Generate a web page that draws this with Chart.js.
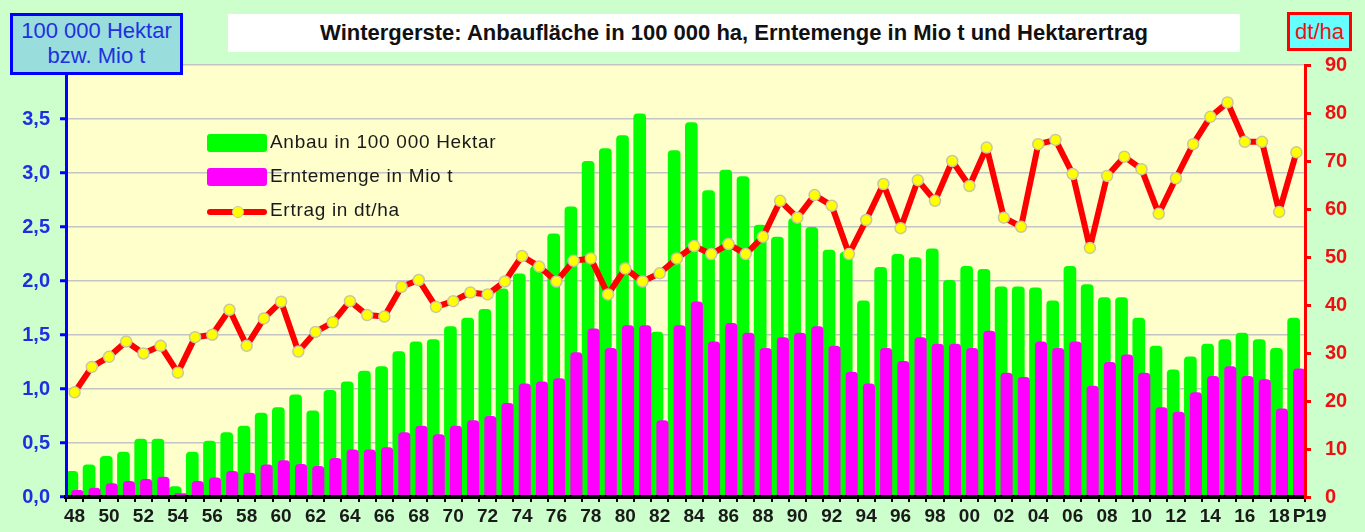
<!DOCTYPE html>
<html>
<head>
<meta charset="utf-8">
<script src="https://cdn.jsdelivr.net/npm/chart.js"></script>
<style>
body { margin: 0; background: #ccffcc; font-family: "Liberation Sans", Arial, sans-serif; }
#wrap { position: relative; width: 1365px; height: 532px; overflow: hidden; background: #ccffcc; }
canvas { position: absolute; left: 0; top: 0; }
.title-box { position: absolute; left: 228px; top: 14px; width: 1012px; height: 38px; background: #fff;
  text-align: center; line-height: 38px; font-weight: bold; font-size: 22px; color: #111; }
.unit-left { position: absolute; left: 10px; top: 13px; width: 167px; height: 54px; border: 3px solid #0000ff;
  background: #99dddd; color: #2030e0; font-size: 22px; line-height: 25px; text-align: center; padding-top: 2px; box-sizing: content-box; }
.unit-right { position: absolute; left: 1287px; top: 12px; width: 59px; height: 33px; border: 3px solid #ff0000;
  background: #66ffff; color: #ee1111; font-size: 22px; line-height: 33px; text-align: center; }
.legend { position: absolute; left: 207px; top: 128px; }
.legend .row { position: relative; height: 34px; }
.legend .sw { position: absolute; left: 0; top: 6px; width: 60px; height: 18px; border-radius: 3px; }
.legend .ln { position: absolute; left: 0; top: 13px; width: 60px; height: 6px; border-radius: 3px; background: #ff0000; }
.legend .dot { position: absolute; left: 25px; top: 10px; width: 10px; height: 10px; border-radius: 50%; background: #ffff00; border: 1px solid #c8c8a0; }
.legend .tx { position: absolute; left: 63px; top: 3px; font-size: 19px; letter-spacing: 0.7px; color: #1a1a1a; white-space: nowrap; }
</style>
</head>
<body>
<div id="wrap">
  <canvas id="chart" width="1365" height="532"></canvas>
  <div class="title-box">Wintergerste: Anbaufläche in 100 000 ha, Erntemenge in Mio t und Hektarertrag</div>
  <div class="unit-left">100 000 Hektar<br>bzw. Mio t</div>
  <div class="unit-right">dt/ha</div>
  <div class="legend" id="legend"></div>
</div>
<script>
// Jahre 1948 - 2019 (P = vorläufig)
const years = ['48','49','50','51','52','53','54','55','56','57','58','59','60','61','62','63','64','65','66','67','68','69',
  '70','71','72','73','74','75','76','77','78','79','80','81','82','83','84','85','86','87','88','89',
  '90','91','92','93','94','95','96','97','98','99','00','01','02','03','04','05','06','07','08','09',
  '10','11','12','13','14','15','16','17','18','P19'];

// Anbau in 100 000 ha
const anbau = [0.24,0.30,0.38,0.42,0.54,0.54,0.10,0.42,0.52,0.60,0.66,0.78,0.83,0.95,0.80,0.99,1.07,1.17,1.21,1.35,1.44,1.46,
  1.58,1.66,1.74,1.93,2.07,2.14,2.44,2.69,3.11,3.23,3.35,3.55,1.53,3.21,3.47,2.84,3.03,2.97,2.52,2.41,
  2.58,2.50,2.29,2.27,1.82,2.13,2.25,2.22,2.30,2.01,2.14,2.11,1.95,1.95,1.94,1.82,2.14,1.97,1.85,1.85,
  1.66,1.40,1.18,1.30,1.42,1.46,1.52,1.46,1.38,1.66];

// Erntemenge in Mio t
const ernte = [0.065,0.086,0.127,0.148,0.167,0.188,0.034,0.148,0.18,0.24,0.225,0.30,0.34,0.305,0.287,0.36,0.44,0.44,0.46,0.60,0.66,0.58,
  0.66,0.71,0.75,0.87,1.05,1.07,1.10,1.34,1.56,1.38,1.59,1.59,0.71,1.59,1.81,1.44,1.61,1.52,1.38,1.48,
  1.52,1.58,1.40,1.16,1.05,1.38,1.26,1.48,1.42,1.42,1.38,1.54,1.15,1.11,1.44,1.38,1.44,1.03,1.25,1.32,
  1.15,0.83,0.79,0.97,1.12,1.21,1.12,1.09,0.82,1.19];

// Ertrag in dt/ha
const ertrag = [21.8,27.1,29.2,32.4,29.9,31.5,25.9,33.3,33.8,39.0,31.5,37.2,40.7,30.3,34.4,36.4,40.8,37.9,37.6,43.8,45.2,39.6,
  40.8,42.6,42.2,44.9,50.2,48.0,44.9,49.2,49.7,42.2,47.6,44.9,46.6,49.7,52.3,50.6,52.7,50.6,54.2,61.7,
  58.2,62.9,60.7,50.6,57.7,65.2,56.0,66.0,61.7,70.0,64.8,72.8,58.2,56.3,73.5,74.4,67.3,51.9,66.9,70.9,
  68.3,59.0,66.4,73.5,79.2,82.2,74.0,74.0,59.4,71.8];

const legendItems = [
  { text: 'Anbau in 100 000 Hektar', color: '#00ff00', type: 'bar' },
  { text: 'Erntemenge in Mio t', color: '#ff00ff', type: 'bar' },
  { text: 'Ertrag in dt/ha', color: '#ff0000', type: 'line' }
];

document.getElementById('legend').innerHTML = legendItems.map(item => `
  <div class="row">
    ${item.type === 'bar'
      ? `<div class="sw" style="background:${item.color}"></div>`
      : `<div class="ln"></div><div class="dot"></div>`}
    <div class="tx">${item.text}</div>
  </div>
`).join('');

const blue = '#1f2fe0';
const red = '#ee1111';

// Hintergrund der Zeichenfläche + Magenta-Balken über Grün zeichnen
const plotBg = {
  id: 'plotBg',
  beforeDraw(chart) {
    const { ctx, chartArea: a } = chart;
    ctx.save();
    ctx.fillStyle = '#ffffcc';
    ctx.fillRect(a.left, a.top, a.right - a.left, a.bottom - a.top);
    ctx.restore();
  },
  beforeDatasetDraw(chart, args) {
    if (args.index === 1) return false;
  },
  afterDatasetDraw(chart, args) {
    if (args.index === 0) {
      const a = chart.chartArea;
      chart.ctx.save();
      chart.ctx.beginPath();
      chart.ctx.rect(a.left, a.top, a.right - a.left, a.bottom - a.top);
      chart.ctx.clip();
      chart.getDatasetMeta(1).controller.draw();
      chart.ctx.restore();
    }
  }
};

new Chart(document.getElementById('chart').getContext('2d'), {
  type: 'bar',
  data: {
    labels: years,
    datasets: [
      {
        label: 'Anbau in 100 000 Hektar',
        data: anbau,
        backgroundColor: '#00ff00',
        borderRadius: 4,
        categoryPercentage: 0.64,
        barPercentage: 2.3,
        yAxisID: 'y',
        order: 1
      },
      {
        label: 'Erntemenge in Mio t',
        data: ernte,
        backgroundColor: '#ff00ff',
        borderRadius: 4,
        categoryPercentage: 0.64,
        barPercentage: 2.2,
        yAxisID: 'y',
        order: 1
      },
      {
        type: 'line',
        label: 'Ertrag in dt/ha',
        data: ertrag,
        borderColor: '#ff0000',
        borderWidth: 6,
        borderJoinStyle: 'round',
        borderCapStyle: 'round',
        tension: 0,
        pointRadius: 5.5,
        pointBackgroundColor: '#ffff00',
        pointBorderColor: '#c8c8a0',
        pointBorderWidth: 1.5,
        yAxisID: 'y2',
        order: 0
      }
    ]
  },
  options: {
    responsive: false,
    animation: false,
    devicePixelRatio: 1,
    layout: { padding: { top: 65, left: 0, right: 0, bottom: 0 } },
    plugins: {
      legend: { display: false },
      title: { display: false },
      tooltip: { enabled: false }
    },
    scales: {
      x: {
        offset: true,
        grid: { drawOnChartArea: false, tickLength: 5, color: '#000', lineWidth: 2, offset: true },
        border: { color: '#000', width: 4, z: 1 },
        ticks: {
          autoSkip: false,
          maxRotation: 0,
          padding: 3,
          color: '#1a1a1a',
          font: { family: '"Liberation Sans", Arial, sans-serif', size: 19, weight: 'bold' },
          callback: function (value, index) {
            if (index === years.length - 1) return '\u00a0\u00a0\u00a0\u00a0\u00a0' + years[index];
            return index % 2 === 0 ? years[index] : '';
          }
        },
        afterFit(scale) { scale.height = 35; }
      },
      y: {
        position: 'left',
        min: 0,
        max: 4,
        ticks: {
          stepSize: 0.5,
          padding: 10,
          color: blue,
          font: { family: '"Liberation Sans", Arial, sans-serif', size: 20, weight: 'bold' },
          callback: value => value >= 4 ? '' : value.toFixed(1).replace('.', ',')
        },
        grid: { color: '#c4c4c4', lineWidth: 1.5, tickColor: '#0000ff', tickLength: 6, tickWidth: 3 },
        border: { color: '#0000ff', width: 3, z: 1 },
        afterFit(scale) { scale.width = 66; }
      },
      y2: {
        position: 'right',
        min: 0,
        max: 90,
        ticks: {
          stepSize: 10,
          padding: 14,
          color: red,
          font: { family: '"Liberation Sans", Arial, sans-serif', size: 20, weight: 'bold' }
        },
        grid: { drawOnChartArea: false, color: '#ff0000', tickLength: 6, lineWidth: 3 },
        border: { color: '#ff0000', width: 3, z: 1 },
        afterFit(scale) { scale.width = 60; }
      }
    }
  },
  plugins: [plotBg]
});
</script>
</body>
</html>
